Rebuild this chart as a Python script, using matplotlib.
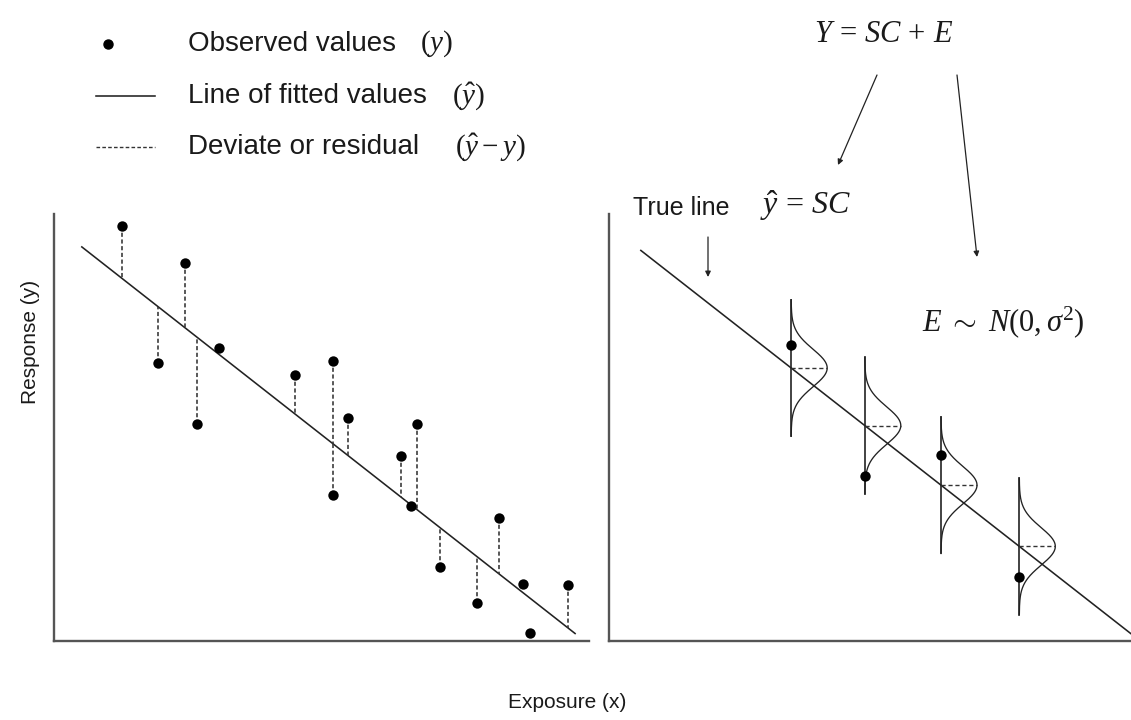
import numpy as np
import matplotlib
matplotlib.use('Agg')
import matplotlib.pyplot as plt
from matplotlib.lines import Line2D

plt.rcParams['font.family'] = ['Liberation Sans', 'DejaVu Sans']
plt.rcParams['mathtext.fontset'] = 'custom'
plt.rcParams['mathtext.rm'] = 'Liberation Serif'
plt.rcParams['mathtext.it'] = 'Liberation Serif:italic'
plt.rcParams['mathtext.bf'] = 'Liberation Serif:bold'

# ---------------- data: left panel (observed values and fitted line) ----------------
obs_x = [1.27, 1.95, 2.44, 2.68, 3.09, 4.50, 5.21, 5.21, 5.50, 6.48, 6.79, 6.67,
         7.22, 7.90, 8.32, 8.77, 8.90, 9.61]
obs_y = [9.72, 6.52, 8.85, 5.08, 6.87, 6.23, 6.56, 3.42, 5.23, 4.34, 5.09, 3.16,
         1.73, 0.90, 2.89, 1.33, 0.18, 1.30]
show_resid = [True, True, True, True, False, True, True, True, True, True, True, False,
              True, True, True, False, False, True]
fit_intercept = 9.74
fit_slope = -0.982
fit_x_range = [0.52, 9.74]

# ---------------- data: right panel (true line and error distributions) ----------------
true_intercept = 9.73
true_slope = -0.956
true_x_range = [0.61, 10.0]
dist_x = [3.49, 4.90, 6.36, 7.86]
dist_obs_y = [6.93, 3.87, 4.35, 1.50]
dist_halfspan = 1.6
dist_sigma = 0.44
dist_peak = 0.69

W, H = 1131, 720
fig = plt.figure(figsize=(W / 100, H / 100), dpi=100)
fig.patch.set_facecolor('white')


def fp(x, y):
    return (x / W, 1 - y / H)


TXT = '#1a1a1a'
DASH = (0, (2.6, 1.6))

axL = fig.add_axes([54 / W, 1 - 641 / H, 535 / W, 427 / H])
axR = fig.add_axes([609 / W, 1 - 641 / H, 522 / W, 427 / H])
for ax in (axL, axR):
    ax.set_xlim(0, 10)
    ax.set_ylim(0, 10)
    for s in ('top', 'right'):
        ax.spines[s].set_visible(False)
    for s in ('left', 'bottom'):
        ax.spines[s].set_linewidth(1.7)
        ax.spines[s].set_color('#555555')
    ax.set_xticks([])
    ax.set_yticks([])
    ax.patch.set_alpha(0)

# left panel
fx = np.array(fit_x_range)
axL.plot(fx, fit_intercept + fit_slope * fx, color='#222222', lw=1.15)
for x, y, sh in zip(obs_x, obs_y, show_resid):
    if sh:
        yhat = fit_intercept + fit_slope * x
        axL.plot([x, x], [y, yhat], color='#333333', lw=1.15, ls=DASH)
axL.scatter(obs_x, obs_y, s=56, color='black', zorder=3, clip_on=False, linewidths=0)

# right panel
tx = np.array(true_x_range)
axR.plot(tx, true_intercept + true_slope * tx, color='#222222', lw=1.15, clip_on=False)
for x, yo in zip(dist_x, dist_obs_y):
    m = true_intercept + true_slope * x
    yy = np.linspace(m - dist_halfspan, m + dist_halfspan, 300)
    xx = x + dist_peak * np.exp(-0.5 * ((yy - m) / dist_sigma) ** 2)
    axR.plot(xx, yy, color='#222222', lw=0.95)
    axR.plot([x, x], [m - dist_halfspan, m + dist_halfspan], color='#222222', lw=1.2)
    axR.plot([x, x + dist_peak], [m, m], color='#333333', lw=1.0, ls=(0, (3, 2)))
axR.scatter(dist_x, dist_obs_y, s=56, color='black', zorder=3, linewidths=0)

# legend (manual)
fig.add_artist(Line2D([fp(108, 44)[0]], [fp(108, 44)[1]], marker='o', ms=6.5,
                      color='black', ls='none'))
fig.add_artist(Line2D([96 / W, 155 / W], [1 - 96 / H] * 2, color='#222222', lw=1.15))
fig.add_artist(Line2D([96 / W, 155 / W], [1 - 147 / H] * 2, color='#333333', lw=1.0,
                      ls=DASH))
fig.text(*fp(188, 44), 'Observed values', fontsize=20, va='center', ha='left', color=TXT)
fig.text(*fp(420, 44), r'$(y)$', fontsize=21, va='center', ha='left', color=TXT)
fig.text(*fp(188, 96), 'Line of fitted values', fontsize=20, va='center', ha='left', color=TXT)
fig.text(*fp(452, 96), r'$(\hat{y})$', fontsize=21, va='center', ha='left', color=TXT)
fig.text(*fp(188, 147), 'Deviate or residual', fontsize=20, va='center', ha='left', color=TXT)
fig.text(*fp(455, 147), r'$(\hat{y} - y)$', fontsize=21, va='center', ha='left', color=TXT)

# right-side annotations
fig.text(*fp(884, 34), r'$Y\,=\,SC\,+\,E$', fontsize=22, ha='center', va='center', color=TXT)
fig.text(*fp(633, 208), 'True line', fontsize=18, ha='left', va='center', color=TXT)
fig.text(*fp(760, 206), r'$\hat{y}\,=\,SC$', fontsize=23, ha='left', va='center', color=TXT)
fig.text(*fp(922, 322), r'$E\ \sim\ N(0,\sigma^2)$', fontsize=22, ha='left', va='center',
         color=TXT)

arrows = [((877, 75), (838, 165)), ((957, 75), (977, 257)), ((708, 237), (708, 277))]
for (x0, y0), (x1, y1) in arrows:
    fig.add_artist(matplotlib.patches.FancyArrowPatch(
        (x0 / W, 1 - y0 / H), (x1 / W, 1 - y1 / H), transform=fig.transFigure,
        arrowstyle='-|>', mutation_scale=8, lw=0.9, color='#222222',
        shrinkA=0, shrinkB=0))

fig.text(*fp(30, 342), 'Response (y)', rotation=90, fontsize=15, ha='center', va='center',
         color=TXT)
fig.text(*fp(567, 703), 'Exposure (x)', fontsize=15, ha='center', va='center', color=TXT)

fig.savefig('out.png', dpi=100, facecolor='white')
